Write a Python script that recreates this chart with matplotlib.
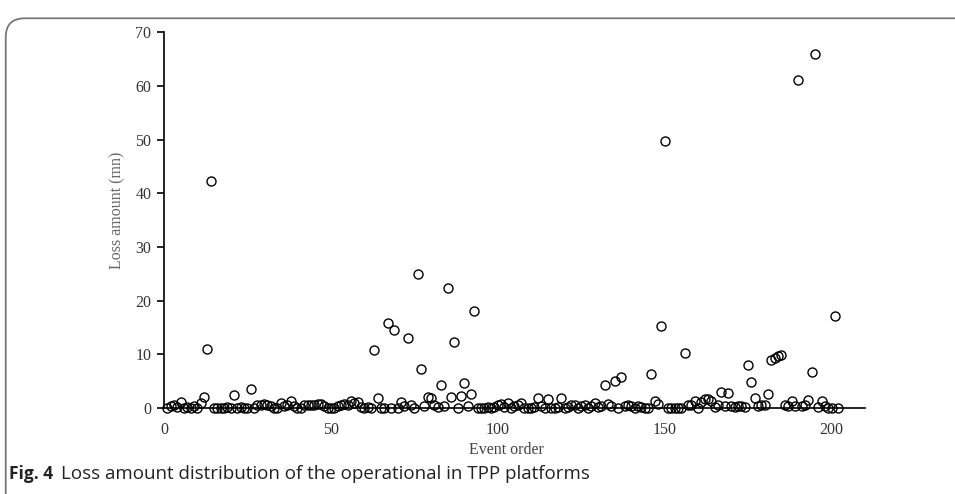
import numpy as np
import matplotlib.pyplot as plt
from matplotlib.patches import FancyBboxPatch

# Loss amount per event
loss = [
    0.1, 0.3, 0.6, 0.2, 1.2, 0.1, 0.2, 0.1, 0.3, 0.1,
    0.9, 2.0, 11.0, 42.3, 0.1, 0.1, 0.1, 0.1, 0.2, 0.1,
    2.4, 0.1, 0.2, 0.1, 0.1, 3.5, 0.1, 0.5, 0.6, 0.7,
    0.5, 0.3, 0.1, 0.1, 0.9, 0.4, 0.5, 1.4, 0.3, 0.1,
    0.1, 0.5, 0.6, 0.6, 0.6, 0.7, 0.8, 0.4, 0.1, 0.1,
    0.1, 0.3, 0.5, 0.7, 0.6, 1.4, 0.9, 1.2, 0.2, 0.1,
    0.2, 0.1, 10.8, 1.8, 0.1, 0.1, 15.9, 0.1, 14.5, 0.1,
    1.1, 0.4, 13.1, 0.6, 0.1, 24.9, 7.3, 0.4, 2.0, 1.8,
    0.5, 0.2, 4.2, 0.4, 22.3, 2.0, 12.3, 0.1, 2.2, 4.7,
    0.4, 2.6, 18.1, 0.1, 0.1, 0.1, 0.2, 0.1, 0.2, 0.5,
    0.8, 0.2, 1.0, 0.1, 0.4, 0.6, 1.0, 0.1, 0.1, 0.1,
    0.2, 1.8, 0.3, 0.1, 1.7, 0.1, 0.1, 0.2, 1.8, 0.1,
    0.2, 0.6, 0.5, 0.1, 0.3, 0.6, 0.1, 0.3, 0.9, 0.2,
    0.4, 4.2, 0.8, 0.3, 5.0, 0.1, 5.8, 0.4, 0.5, 0.3,
    0.1, 0.4, 0.2, 0.1, 0.1, 6.3, 1.3, 0.7, 15.3, 49.8,
    0.1, 0.1, 0.1, 0.1, 0.1, 10.2, 0.5, 0.6, 1.4, 0.1,
    1.1, 1.6, 1.6, 1.3, 0.2, 0.5, 3.0, 0.4, 2.8, 0.4,
    0.2, 0.3, 0.3, 0.2, 8.1, 4.9, 1.8, 0.4, 0.5, 0.6,
    2.6, 9.0, 9.3, 9.6, 9.8, 0.5, 0.4, 1.4, 0.3, 61.1,
    0.3, 0.5, 1.5, 6.8, 65.9, 0.2, 1.3, 0.3, 0.1, 0.1,
    17.1, 0.1,
]
events = np.arange(1, len(loss) + 1)

x_ticks = [0, 50, 100, 150, 200]
y_ticks = [0, 10, 20, 30, 40, 50, 60, 70]

fig = plt.figure(figsize=(9.55, 4.94), dpi=100)
ax = fig.add_axes([0.1717, 0.174, 0.734, 0.761])

ax.plot(events, loss, 'o', mfc='none', mec='black', ms=6.5, mew=1.0,
        clip_on=False, zorder=3)

ax.set_xlim(0, 210)
ax.set_ylim(0, 70)
ax.set_xticks(x_ticks)
ax.set_yticks(y_ticks)
ax.spines['top'].set_visible(False)
ax.spines['right'].set_visible(False)
ax.spines['left'].set_linewidth(1.2)
ax.spines['bottom'].set_linewidth(1.2)
ax.tick_params(axis='x', length=0, pad=10)
ax.tick_params(axis='y', length=5, width=1.2, direction='out', pad=4)
for lab in ax.get_xticklabels() + ax.get_yticklabels():
    lab.set_fontfamily('Liberation Serif')
    lab.set_fontsize(11.5)
    lab.set_color('#333333')

ax.set_xlabel('Event order', fontfamily='Liberation Serif', fontsize=11.5,
              color='#444444')
ax.set_ylabel('Loss amount (mn)', fontfamily='Liberation Serif', fontsize=11.5,
              color='#666666')
ax.xaxis.set_label_coords(0.488, -0.09)
ax.yaxis.set_label_coords(-0.055, 0.527)

# caption
fig.text(0.009, 0.030, 'Fig. 4', fontfamily='Open Sans', fontweight='bold',
         fontsize=12.5, color='#222222')
fig.text(0.064, 0.030, 'Loss amount distribution of the operational in TPP platforms',
         fontfamily='Open Sans', fontsize=13.5, color='#222222')

# rounded frame around the figure
frame = FancyBboxPatch((0.006, -0.2), 1.2, 1.163,
                       boxstyle='round,pad=0,rounding_size=0.02',
                       transform=fig.transFigure, fill=False,
                       edgecolor='#777777', linewidth=1.3, clip_on=False,
                       mutation_aspect=955 / 494)
fig.patches.append(frame)

plt.savefig('out.png', dpi=100)
